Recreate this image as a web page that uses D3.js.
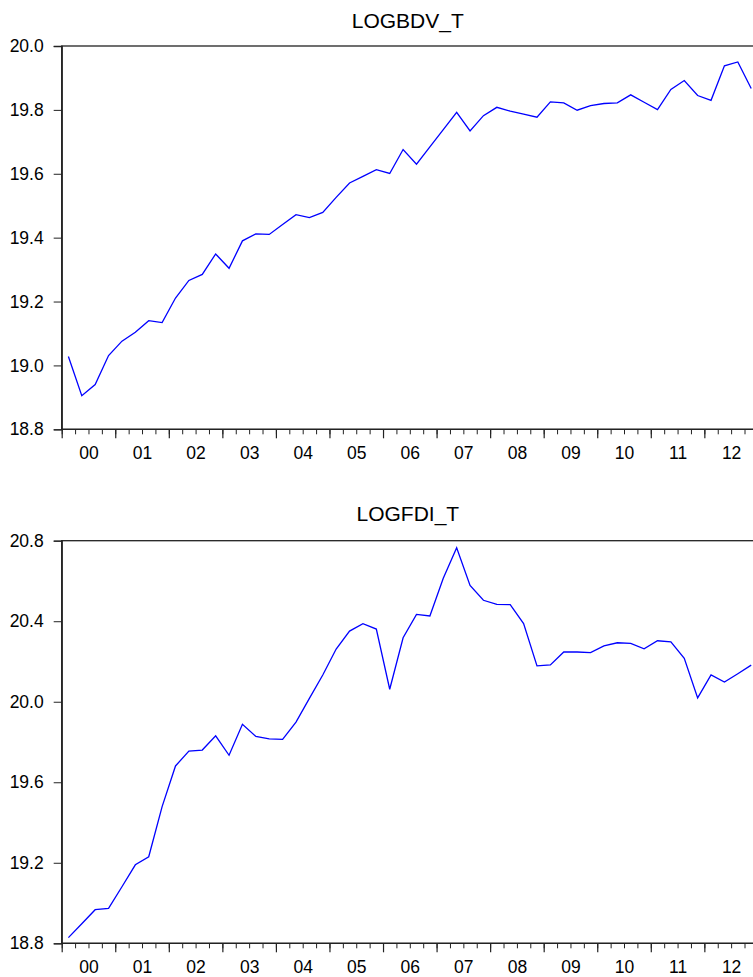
<!DOCTYPE html>
<html>
<head>
<meta charset="utf-8">
<script src="https://cdn.jsdelivr.net/npm/d3@7"></script>
<style>
  html, body { margin: 0; padding: 0; background: #fff; }
  svg { display: block; }
  text { font-family: "Liberation Sans", Arial, sans-serif; fill: #000; }
</style>
</head>
<body>
<svg id="chart" width="753" height="977"></svg>
<script>
// ---- Data (quarterly, 2000Q1 .. 2012Q4) ----
const yearLabels = ["00","01","02","03","04","05","06","07","08","09","10","11","12"];
const titles = ["LOGBDV_T", "LOGFDI_T"];
const logbdv = [19.028,18.905,18.940,19.031,19.076,19.104,19.140,19.134,19.211,19.266,
                19.285,19.349,19.304,19.390,19.412,19.410,19.441,19.472,19.463,19.479,
                19.526,19.571,19.592,19.613,19.601,19.676,19.630,19.684,19.738,19.792,
                19.734,19.782,19.808,19.796,19.787,19.777,19.825,19.822,19.799,19.813,
                19.820,19.822,19.847,19.824,19.801,19.864,19.892,19.845,19.830,19.938,
                19.950,19.867];
const logfdi = [18.828,18.897,18.967,18.974,19.081,19.190,19.230,19.479,19.681,19.755,
                19.760,19.831,19.734,19.888,19.828,19.816,19.813,19.899,20.017,20.133,
                20.262,20.351,20.388,20.361,20.062,20.318,20.434,20.426,20.613,20.765,
                20.578,20.504,20.484,20.482,20.388,20.178,20.183,20.247,20.247,20.244,
                20.277,20.293,20.290,20.263,20.303,20.297,20.216,20.019,20.133,20.098,
                20.139,20.182];
const bdvTicks = [18.8, 19.0, 19.2, 19.4, 19.6, 19.8, 20.0];
const fdiTicks = [18.8, 19.2, 19.6, 20.0, 20.4, 20.8];

const svg = d3.select("#chart");
const nQ = 52;
const x = d3.scaleLinear().domain([0, nQ]).range([61.7, 757.9]);

function panel(values, ticks, title, top, bottom, titleBaseline) {
  const g = svg.append("g");
  const y = d3.scaleLinear().domain([ticks[0], ticks[ticks.length - 1]]).range([bottom, top]);

  // frame
  g.append("rect")
    .attr("x", x(0)).attr("y", top)
    .attr("width", x(nQ) - x(0)).attr("height", bottom - top)
    .attr("fill", "none").attr("stroke", "#222").attr("stroke-width", 1.3);

  // y axis
  const ya = g.append("g").attr("transform", `translate(${x(0)},0)`)
    .call(d3.axisLeft(y).tickValues(ticks).tickSize(8).tickPadding(10).tickFormat(d3.format(".1f")));
  ya.select(".domain").attr("stroke", "#222").attr("stroke-width", 1.3);
  ya.selectAll(".tick line").attr("stroke", "#222");
  ya.selectAll("text").style("font-size", "17.5px").attr("fill", "#111");

  // x minor ticks (quarters)
  const xm = g.append("g").attr("transform", `translate(0,${bottom})`)
    .call(d3.axisBottom(x).tickValues(d3.range(0, nQ + 1)).tickSize(5).tickFormat(""));
  xm.select(".domain").remove();
  xm.selectAll(".tick line").attr("stroke", "#222");

  // x major ticks (years)
  const xM = g.append("g").attr("transform", `translate(0,${bottom})`)
    .call(d3.axisBottom(x).tickValues(d3.range(0, nQ + 1, 4)).tickSize(9).tickFormat(""));
  xM.select(".domain").remove();
  xM.selectAll(".tick line").attr("stroke", "#222").attr("stroke-width", 1.2);

  // x labels at year centres
  const xl = g.append("g").attr("transform", `translate(0,${bottom})`)
    .call(d3.axisBottom(x).tickValues(yearLabels.map((_, i) => i * 4 + 2))
      .tickSize(0).tickPadding(17.5).tickFormat((d, i) => yearLabels[i]));
  xl.select(".domain").remove();
  xl.selectAll("text").style("font-size", "17.5px").attr("fill", "#111");

  // bottom axis line
  g.append("line").attr("x1", x(0)).attr("x2", x(nQ)).attr("y1", bottom).attr("y2", bottom)
    .attr("stroke", "#222").attr("stroke-width", 1.3);

  // series line
  const line = d3.line().x((d, i) => x(i + 0.5)).y(d => y(d));
  g.append("path").datum(values)
    .attr("d", line).attr("fill", "none")
    .attr("stroke", "#0000FF").attr("stroke-width", 1.3).attr("stroke-linejoin", "miter");

  // title
  g.append("text").attr("x", (x(0) + x(nQ)) / 2 - 2).attr("y", titleBaseline)
    .attr("text-anchor", "middle").style("font-size", "21px").attr("fill", "#111")
    .text(title);
}

panel(logbdv, bdvTicks, titles[0], 46, 429.3, 28.3);
panel(logfdi, fdiTicks, titles[1], 540.7, 943.3, 520.7);
</script>
</body>
</html>
